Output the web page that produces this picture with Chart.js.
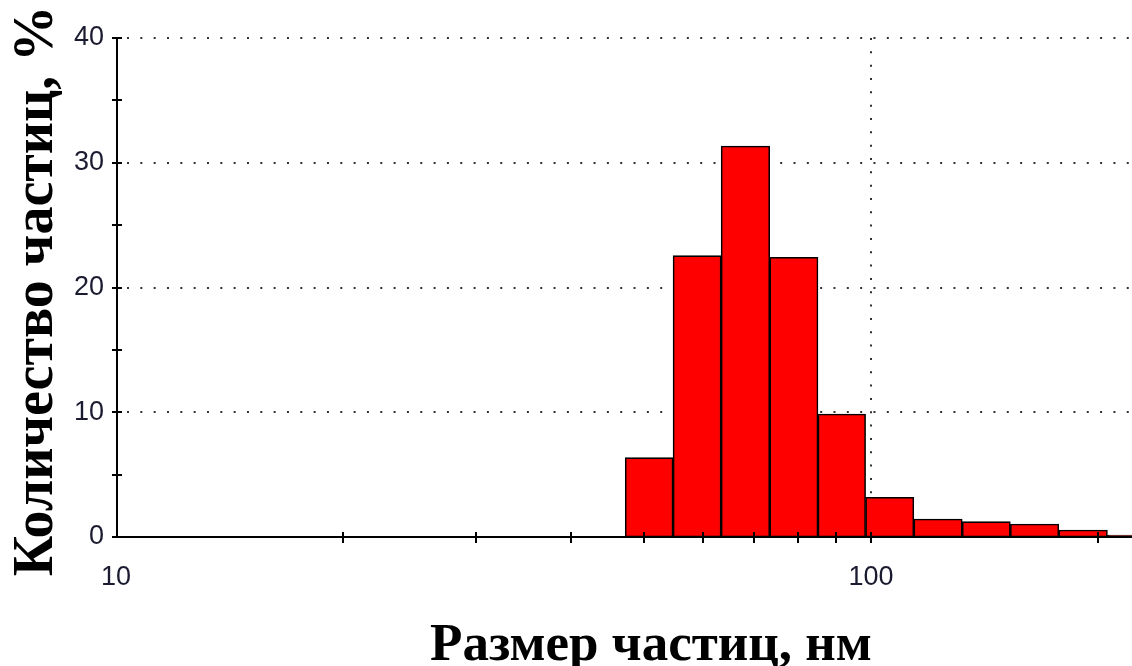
<!DOCTYPE html>
<html><head><meta charset="utf-8">
<style>html,body{margin:0;padding:0;background:#fff;overflow:hidden}#wrap{width:1132px;height:666px;position:relative}</style>
<script src="https://cdn.jsdelivr.net/npm/chart.js@4.4.1/dist/chart.umd.min.js"></script>
</head><body><div id="wrap"><canvas id="c" width="1132" height="666"></canvas></div>
<script>
// Bin edges of particle size (nm) and the share of particles in each bin (%)
const binEdges = [47.2, 54.75, 63.2, 73.5, 85.2, 98.2, 114.0, 132.2, 152.8, 177.4, 205.7, 238.5];
const percentages = [6.36, 22.55, 31.34, 22.42, 9.86, 3.18, 1.44, 1.23, 1.04, 0.56, 0.16];
const xTickLabels = ['10', '100'];
const yTickLabels = ['0', '10', '20', '30', '40'];
const xGridValues = [100];
const yGridValues = [10, 20, 30, 40];
const xTitle = 'Размер частиц, нм';
const yTitle = 'Количество частиц, %';
const xMin = 10, xMax = 221.7, yMin = 0, yMax = 40, yStep = 5;

const binCenters = percentages.map((_, i) => Math.sqrt(binEdges[i] * binEdges[i + 1]));
const points = percentages.map((v, i) => ({x: binCenters[i], y: v}));

function isNiceLog(v) {
  const e = Math.pow(10, Math.floor(Math.log10(v) + 1e-9));
  const d = v / e;
  return Math.abs(d - Math.round(d)) < 1e-6;
}

const framePlugin = {
  id: 'frame',
  beforeDatasetsDraw(chart) {
    const {ctx, chartArea: a, scales: {x, y}} = chart;
    ctx.save();
    ctx.strokeStyle = '#333333';
    ctx.lineWidth = 2;
    ctx.setLineDash([2, 11.33]);
    yGridValues.forEach(v => {
      const py = Math.round(y.getPixelForValue(v));
      ctx.lineDashOffset = -11;
      ctx.beginPath(); ctx.moveTo(a.left, py); ctx.lineTo(a.right, py); ctx.stroke();
    });
    xGridValues.forEach(v => {
      const px = Math.round(x.getPixelForValue(v));
      ctx.lineDashOffset = 0;
      ctx.beginPath(); ctx.moveTo(px, a.top); ctx.lineTo(px, a.bottom); ctx.stroke();
    });
    ctx.restore();
  },
  afterDatasetsDraw(chart) {
    const {ctx, chartArea: a, scales: {x, y}} = chart;
    ctx.save();
    ctx.strokeStyle = '#000';
    ctx.lineWidth = 2;
    ctx.setLineDash([]);
    const x0 = a.left + 1, y0 = a.bottom;
    ctx.beginPath(); ctx.moveTo(x0, a.top); ctx.lineTo(x0, y0 + 1); ctx.stroke();
    ctx.beginPath(); ctx.moveTo(a.left, y0); ctx.lineTo(a.right, y0); ctx.stroke();
    y.ticks.forEach(t => {
      const py = Math.round(y.getPixelForValue(t.value));
      ctx.beginPath(); ctx.moveTo(x0 - 5, py); ctx.lineTo(x0 + 5, py); ctx.stroke();
    });
    x.ticks.forEach(t => {
      if (t.value <= xMin || t.value >= xMax || !isNiceLog(t.value)) return;
      const px = Math.round(x.getPixelForValue(t.value));
      ctx.beginPath(); ctx.moveTo(px, y0 - 5); ctx.lineTo(px, y0 + 6); ctx.stroke();
    });
    ctx.restore();
  },
  afterDraw(chart) {
    const {ctx} = chart;
    ctx.save();
    ctx.fillStyle = '#000';
    ctx.textAlign = 'center';
    ctx.textBaseline = 'alphabetic';
    ctx.font = 'bold 53px "Liberation Serif", "Times New Roman", serif';
    ctx.fillText(xTitle, 651, 660);
    ctx.font = 'bold 56px "Liberation Serif", "Times New Roman", serif';
    ctx.translate(52, 291);
    ctx.rotate(-Math.PI / 2);
    ctx.fillText(yTitle, 0, 0);
    ctx.restore();
  }
};

new Chart(document.getElementById('c'), {
  type: 'bar',
  data: {
    datasets: [{
      data: points,
      backgroundColor: '#ff0000',
      borderColor: '#000000',
      borderWidth: 1.6,
      borderSkipped: false,
      barThickness: 'flex',
      barPercentage: 1,
      categoryPercentage: 1
    }]
  },
  options: {
    responsive: false,
    animation: false,
    devicePixelRatio: 1,
    layout: {padding: {top: 38, right: 0, left: 0, bottom: 0}},
    plugins: {legend: {display: false}, tooltip: {enabled: false}},
    scales: {
      x: {
        type: 'logarithmic',
        min: xMin, max: xMax,
        offset: false,
        grid: {display: false, offset: false},
        border: {display: false},
        afterFit(s) { s.height = 129; s.paddingRight = 0; s.paddingLeft = 0; },
        ticks: {
          autoSkip: false, maxRotation: 0, minRotation: 0, padding: 16,
          color: '#1a1a30',
          font: {family: '"Liberation Sans", Arial, sans-serif', size: 27},
          callback(v) { const s = String(Math.round(v)); return xTickLabels.includes(s) && Math.abs(v - Math.round(v)) < 1e-6 ? s : ''; }
        }
      },
      y: {
        type: 'linear',
        min: yMin, max: yMax,
        grid: {display: false},
        border: {display: false},
        afterFit(s) { s.width = 116; s.paddingTop = 0; s.paddingBottom = 0; },
        ticks: {
          stepSize: yStep, padding: 4,
          color: '#1a1a30',
          font: {family: '"Liberation Sans", Arial, sans-serif', size: 27},
          callback(v) { const s = String(v); return yTickLabels.includes(s) ? s : ''; }
        }
      }
    }
  },
  plugins: [framePlugin]
});
</script></body></html>
